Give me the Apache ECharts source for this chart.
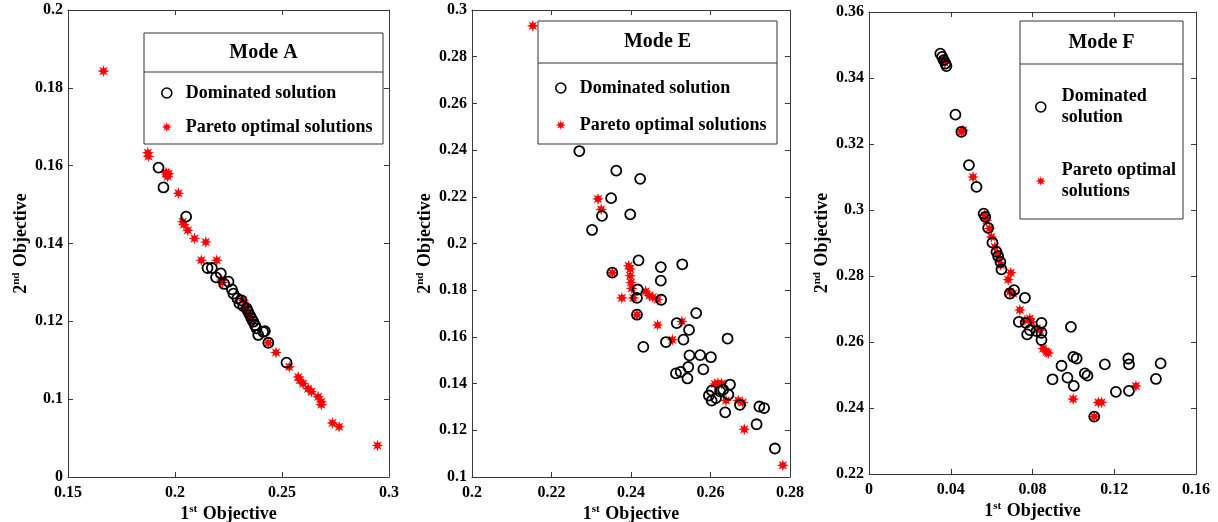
<!DOCTYPE html>
<html><head><meta charset="utf-8">
<script src="https://cdn.jsdelivr.net/npm/echarts@6/dist/echarts.min.js"></script>
<style>html,body{margin:0;padding:0;background:#fff}#c{width:1218px;height:522px}</style>
</head><body><div id="c"></div>
<script>
// ---------- DATA ----------
const modeA_pareto = [
  [0.1666,0.1843],[0.1873,0.1633],[0.1876,0.1624],[0.1962,0.1578],[0.1958,0.1582],[0.1966,0.1572],[0.1970,0.1579],
  [0.2016,0.1529],[0.2036,0.1456],[0.2042,0.1449],[0.2060,0.1434],[0.2091,0.1413],[0.2144,0.1404],
  [0.2123,0.1357],[0.2195,0.1357],[0.2218,0.1306],[0.2222,0.1300],[0.2319,0.1254],[0.2327,0.1240],[0.2335,0.1228],
  [0.2340,0.1222],[0.2350,0.1212],[0.2355,0.1205],[0.2436,0.1145],[0.2472,0.1120],[0.2534,0.1083],[0.2576,0.1057],
  [0.2583,0.1049],[0.2599,0.1040],[0.2622,0.1027],[0.2638,0.1019],[0.2669,0.1006],[0.2684,0.0993],[0.2684,0.0986],
  [0.2736,0.0939],[0.2767,0.0929],[0.2946,0.0881]
];
const modeA_dominated = [
  [0.1923,0.1595],[0.1946,0.1544],[0.2052,0.1469],[0.2152,0.1337],[0.2172,0.1337],[0.2192,0.1313],[0.2214,0.1323],
  [0.2230,0.1296],[0.2250,0.1302],[0.2266,0.1282],[0.2273,0.1271],[0.2291,0.1259],[0.2301,0.1246],[0.2311,0.1254],
  [0.2319,0.1239],[0.2335,0.1233],[0.2342,0.1225],[0.2350,0.1216],[0.2358,0.1207],[0.2366,0.1199],[0.2374,0.1190],
  [0.2381,0.1182],[0.2389,0.1165],[0.2412,0.1173],[0.2420,0.1175],[0.2436,0.1145],[0.2521,0.1094]
];
const modeE_pareto = [
  [0.2153,0.2932],[0.2317,0.2191],[0.2325,0.2146],[0.2353,0.1875],[0.2377,0.1767],[0.2394,0.1905],[0.2398,0.1891],
  [0.2398,0.1862],[0.2400,0.1833],[0.2402,0.1808],[0.2406,0.1767],[0.2415,0.1695],[0.2437,0.1795],[0.2446,0.1777],
  [0.2455,0.1770],[0.2467,0.1760],[0.2467,0.1651],[0.2504,0.1588],[0.2528,0.1666],[0.2611,0.1398],[0.2619,0.1402],
  [0.2628,0.1400],[0.2639,0.1328],[0.2670,0.1328],[0.2681,0.1319],[0.2685,0.1204],[0.2782,0.1050]
];
const modeE_dominated = [
  [0.2270,0.2396],[0.2363,0.2312],[0.2423,0.2277],[0.2350,0.2194],[0.2327,0.2118],[0.2398,0.2125],[0.2302,0.2058],
  [0.2419,0.1928],[0.2529,0.1911],[0.2475,0.1899],[0.2475,0.1841],[0.2417,0.1803],[0.2415,0.1767],[0.2476,0.1759],
  [0.2353,0.1875],[0.2415,0.1695],[0.2564,0.1702],[0.2515,0.1659],[0.2546,0.1630],[0.2643,0.1593],[0.2488,0.1578],
  [0.2532,0.1588],[0.2431,0.1557],[0.2547,0.1521],[0.2574,0.1522],[0.2601,0.1513],[0.2544,0.1471],[0.2582,0.1461],
  [0.2513,0.1444],[0.2525,0.1450],[0.2542,0.1422],[0.2649,0.1396],[0.2603,0.1370],[0.2596,0.1349],[0.2603,0.1327],
  [0.2614,0.1338],[0.2624,0.1367],[0.2632,0.1374],[0.2645,0.1353],[0.2637,0.1277],[0.2674,0.1309],[0.2723,0.1302],
  [0.2735,0.1295],[0.2716,0.1226],[0.2762,0.1122]
];
const modeF_pareto = [
  [0.0362,0.3456],[0.0371,0.3446],[0.0452,0.3237],[0.0460,0.3242],[0.0509,0.3100],[0.0566,0.2984],[0.0575,0.2969],
  [0.0590,0.2944],[0.0599,0.2918],[0.0616,0.2888],[0.0629,0.2868],[0.0637,0.2850],[0.0645,0.2833],[0.0694,0.2810],
  [0.0681,0.2789],[0.0689,0.2752],[0.0705,0.2747],[0.0738,0.2697],[0.0763,0.2666],[0.0787,0.2671],[0.0795,0.2661],
  [0.0820,0.2641],[0.0836,0.2636],[0.0852,0.2580],[0.0869,0.2570],[0.0877,0.2567],[0.0999,0.2427],[0.1122,0.2417],
  [0.1138,0.2417],[0.1306,0.2467],[0.1102,0.2374]
];
const modeF_dominated = [
  [0.0349,0.3474],[0.0358,0.3464],[0.0366,0.3454],[0.0374,0.3444],[0.0379,0.3436],[0.0423,0.3289],[0.0452,0.3237],
  [0.0489,0.3136],[0.0526,0.3070],[0.0561,0.2989],[0.0569,0.2979],[0.0583,0.2946],[0.0604,0.2901],[0.0624,0.2873],
  [0.0632,0.2860],[0.0643,0.2843],[0.0648,0.2820],[0.0710,0.2757],[0.0763,0.2734],[0.0689,0.2747],[0.0733,0.2661],
  [0.0767,0.2658],[0.0774,0.2623],[0.0787,0.2636],[0.0820,0.2633],[0.0844,0.2658],[0.0844,0.2628],[0.0844,0.2606],
  [0.0988,0.2646],[0.1000,0.2555],[0.1016,0.2550],[0.0942,0.2528],[0.0898,0.2487],[0.0971,0.2492],[0.1002,0.2467],
  [0.1056,0.2505],[0.1069,0.2498],[0.1154,0.2532],[0.1208,0.2449],[0.1269,0.2550],[0.1272,0.2532],[0.1272,0.2452],
  [0.1404,0.2488],[0.1427,0.2535],[0.1102,0.2374]
];
const panelTitles = ['Mode A','Mode E','Mode F'];
const seriesNames = ['Dominated solution','Pareto optimal solutions'];
const xTicksA = ['0.15','0.2','0.25','0.3'];
const yTicksA = ['0','0.1','0.12','0.14','0.16','0.18','0.2'];
const xTicksE = ['0.2','0.22','0.24','0.26','0.28'];
const yTicksE = ['0.1','0.12','0.14','0.16','0.18','0.2','0.22','0.24','0.26','0.28','0.3'];
const xTicksF = ['0','0.04','0.08','0.12','0.16'];
const yTicksF = ['0.22','0.24','0.26','0.28','0.3','0.32','0.34','0.36'];

// ---------- STYLE ----------
const FONT = "'Liberation Serif','Times New Roman',serif";
let sp = [];
for (let i = 0; i < 16; i++) {
  const a = Math.PI * i / 8 - Math.PI / 2;
  const r = i % 2 === 0 ? 10 : 4.6;
  sp.push((10 + r * Math.cos(a)).toFixed(2) + ' ' + (10 + r * Math.sin(a)).toFixed(2));
}
const STAR = 'path://M' + sp.join(' L') + ' Z';
const RED = '#ff0000';
const AXC = '#3a3a3a';

const grids = [
  {left: 68, top: 10, width: 321, height: 467, outerBoundsMode: 'none', containLabel: false},
  {left: 472, top: 10, width: 318, height: 467, outerBoundsMode: 'none', containLabel: false},
  {left: 869, top: 12, width: 327, height: 462, outerBoundsMode: 'none', containLabel: false}
];
const ranges = [
  {x:[0.15,0.3,0.05], y:[0.08,0.2,0.02], xl:xTicksA, yl:yTicksA},
  {x:[0.2,0.28,0.02], y:[0.1,0.3,0.02], xl:xTicksE, yl:yTicksE},
  {x:[0,0.16,0.04], y:[0.22,0.36,0.02], xl:xTicksF, yl:yTicksF}
];
const richName = {
  a: {fontFamily: FONT, fontWeight: 'bold', fontSize: 18, color: '#000', lineHeight: 20},
  s: {fontFamily: FONT, fontWeight: 'bold', fontSize: 11, color: '#000', lineHeight: 20, verticalAlign: 'top', padding: [0,1,0,0]}
};
const xAxes = [], yAxes = [];
ranges.forEach((r, i) => {
  const base = {type: 'value', gridIndex: i, axisLine: {show: true, onZero: false, lineStyle: {color: AXC, width: 1}},
    axisTick: {show: true, inside: true, length: 5, lineStyle: {color: AXC}}, splitLine: {show: false}};
  xAxes.push(Object.assign({}, base, {position: 'bottom', min: r.x[0], max: r.x[1], interval: r.x[2],
    axisLabel: {margin: 8, fontFamily: FONT, fontWeight: 'bold', fontSize: 16, color: '#000',
      formatter: (v, idx) => r.xl[idx] !== undefined ? r.xl[idx] : ''},
    name: '{a|1}{s|st}{a| Objective}', nameLocation: 'middle', nameGap: 27, nameMoveOverlap: false, nameTextStyle: {rich: richName}}));
  xAxes.push(Object.assign({}, base, {position: 'top', min: r.x[0], max: r.x[1], interval: r.x[2], axisLabel: {show: false}}));
  yAxes.push(Object.assign({}, base, {position: 'left', min: r.y[0], max: r.y[1], interval: r.y[2],
    axisLabel: {margin: 5, fontFamily: FONT, fontWeight: 'bold', fontSize: 16, color: '#000',
      formatter: (v, idx) => r.yl[idx] !== undefined ? r.yl[idx] : ''},
    name: '{a|2}{s|nd}{a| Objective}', nameLocation: 'middle', nameGap: 37, nameMoveOverlap: false, nameRotate: 90, nameTextStyle: {rich: richName}}));
  yAxes.push(Object.assign({}, base, {position: 'right', min: r.y[0], max: r.y[1], interval: r.y[2], axisLabel: {show: false}}));
});

const dataSets = [[modeA_dominated, modeA_pareto],[modeE_dominated, modeE_pareto],[modeF_dominated, modeF_pareto]];
const series = [];
dataSets.forEach((d, i) => {
  series.push({name: seriesNames[1], type: 'scatter', xAxisIndex: 2*i, yAxisIndex: 2*i, data: d[1],
    symbol: STAR, symbolSize: 12, itemStyle: {color: RED, opacity: 1}, z: 2, silent: true});
  series.push({name: seriesNames[0], type: 'scatter', xAxisIndex: 2*i, yAxisIndex: 2*i, data: d[0],
    symbol: 'circle', symbolSize: 10, itemStyle: {color: 'rgba(0,0,0,0)', borderColor: '#000', borderWidth: 1.8, opacity: 1}, z: 3, silent: true});
});

const legendData = [
  {name: seriesNames[0], icon: 'circle', itemStyle: {color: 'rgba(0,0,0,0)', borderColor: '#000', borderWidth: 1.6}},
  {name: seriesNames[1], icon: STAR, itemStyle: {color: RED, borderWidth: 0}}
];
const legTxt = {fontFamily: FONT, fontWeight: 'bold', fontSize: 18, color: '#000', padding: [0,0,0,9]};
const legends = [
  {left: 161, top: 84, padding: 0, orient: 'vertical', itemGap: 16, itemWidth: 10, itemHeight: 10, data: legendData, textStyle: legTxt, selectedMode: false, z: 20},
  {left: 555, top: 79, padding: 0, orient: 'vertical', itemGap: 19, itemWidth: 10, itemHeight: 10, data: legendData, textStyle: legTxt, selectedMode: false, z: 20},
  {left: 1035, top: 86, padding: 0, orient: 'vertical', itemGap: 32, itemWidth: 10, itemHeight: 10, data: legendData,
    textStyle: Object.assign({}, legTxt, {lineHeight: 21, padding: [0,0,0,11]}), selectedMode: false, z: 20,
    formatter: n => n === seriesNames[0] ? 'Dominated\nsolution' : 'Pareto optimal\nsolutions'}
];

const boxes = [
  {x: 144, y: 33, w: 239, h: 111, d: 72},
  {x: 538, y: 21, w: 239, h: 123, d: 63},
  {x: 1020, y: 21, w: 163, h: 198, d: 64}
];
const graphic = [];
boxes.forEach((b, i) => {
  graphic.push({type: 'rect', z: 10, shape: {x: b.x, y: b.y, width: b.w, height: b.h}, style: {fill: '#fff', stroke: '#333', lineWidth: 1}});
  graphic.push({type: 'line', z: 11, shape: {x1: b.x, y1: b.d, x2: b.x + b.w, y2: b.d}, style: {stroke: '#333', lineWidth: 1}});
  graphic.push({type: 'text', z: 11, x: b.x + b.w / 2, y: (b.y + b.d) / 2,
    style: {text: panelTitles[i], fontFamily: FONT, fontWeight: 'bold', fontSize: 20, fill: '#000', align: 'center', verticalAlign: 'middle'}});
});

const chart = echarts.init(document.getElementById('c'), null, {renderer: 'canvas'});
chart.setOption({
  animation: false,
  backgroundColor: '#fff',
  grid: grids,
  xAxis: xAxes,
  yAxis: yAxes,
  legend: legends,
  graphic: graphic,
  series: series
});
</script>
</body></html>
